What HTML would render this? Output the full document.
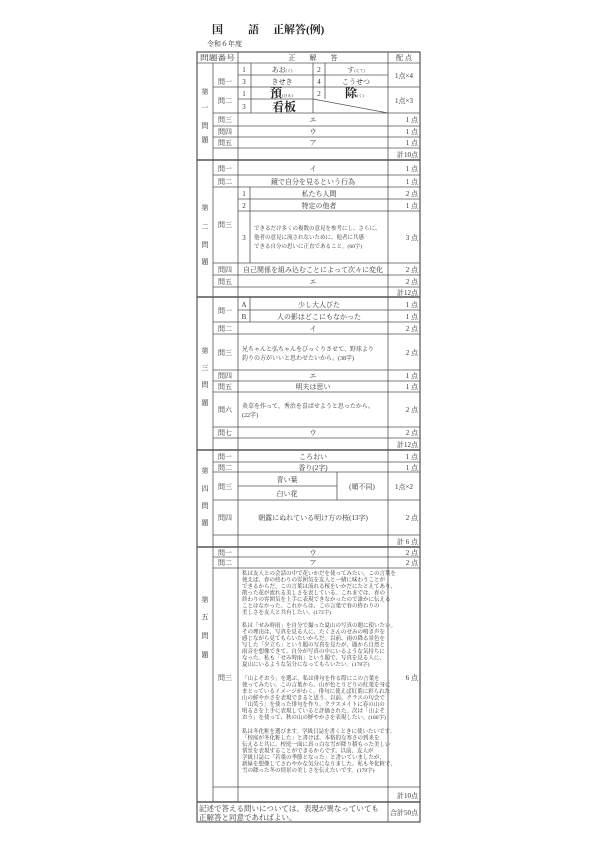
<!DOCTYPE html>
<html><head><meta charset="utf-8"><style>
html,body{margin:0;padding:0;background:#fff;}
svg{display:block;}
text{font-family:"Liberation Serif","Noto Serif CJK SC","Noto Serif CJK SC",serif;fill:#333;}
.s{font-size:7px;}
.t{font-size:5.5px;}
.b{font-size:12px;font-weight:bold;fill:#222;}
.r{text-anchor:end;}
.m{text-anchor:middle;}
</style></head><body>
<svg width="600" height="848" viewBox="0 0 600 848" xmlns="http://www.w3.org/2000/svg">
<g stroke="#555" stroke-width="0.8" fill="none">
<rect x="197" y="52" width="223" height="770" stroke-width="1.2"/>
<line x1="197" y1="63" x2="420" y2="63"/>
<line x1="388" y1="52" x2="388" y2="822"/>
<line x1="238" y1="52" x2="238" y2="802"/>
<line x1="197" y1="160" x2="420" y2="160" stroke-width="1.5"/>
<line x1="197" y1="297" x2="420" y2="297" stroke-width="1.5"/>
<line x1="197" y1="450" x2="420" y2="450" stroke-width="1.5"/>
<line x1="197" y1="547" x2="420" y2="547" stroke-width="1.5"/>
<line x1="197" y1="802" x2="420" y2="802" stroke-width="1.5"/>
<line x1="213" y1="63" x2="213" y2="802"/>
<line x1="238" y1="75" x2="388" y2="75"/>
<line x1="213" y1="87" x2="420" y2="87"/>
<line x1="238" y1="99" x2="313" y2="99"/>
<line x1="213" y1="113" x2="420" y2="113"/>
<line x1="213" y1="126" x2="420" y2="126"/>
<line x1="213" y1="137" x2="420" y2="137"/>
<line x1="213" y1="148" x2="420" y2="148"/>
<line x1="251" y1="63" x2="251" y2="113"/>
<line x1="313" y1="63" x2="313" y2="113"/>
<line x1="325" y1="63" x2="325" y2="99"/>
<line x1="313" y1="99" x2="388" y2="113"/>
<line x1="213" y1="175" x2="420" y2="175"/>
<line x1="213" y1="187" x2="420" y2="187"/>
<line x1="238" y1="199" x2="420" y2="199"/>
<line x1="238" y1="211" x2="420" y2="211"/>
<line x1="213" y1="263" x2="420" y2="263"/>
<line x1="213" y1="275" x2="420" y2="275"/>
<line x1="213" y1="287" x2="420" y2="287"/>
<line x1="250" y1="187" x2="250" y2="263"/>
<line x1="238" y1="310" x2="420" y2="310"/>
<line x1="213" y1="322" x2="420" y2="322"/>
<line x1="213" y1="334" x2="420" y2="334"/>
<line x1="213" y1="370" x2="420" y2="370"/>
<line x1="213" y1="381" x2="420" y2="381"/>
<line x1="213" y1="392" x2="420" y2="392"/>
<line x1="213" y1="427" x2="420" y2="427"/>
<line x1="213" y1="438" x2="420" y2="438"/>
<line x1="250" y1="297" x2="250" y2="322"/>
<line x1="213" y1="462" x2="420" y2="462"/>
<line x1="213" y1="472" x2="420" y2="472"/>
<line x1="238" y1="486" x2="337" y2="486"/>
<line x1="213" y1="500" x2="420" y2="500"/>
<line x1="213" y1="535" x2="420" y2="535"/>
<line x1="337" y1="472" x2="337" y2="500"/>
<line x1="213" y1="557" x2="420" y2="557"/>
<line x1="213" y1="568" x2="420" y2="568"/>
<line x1="213" y1="787" x2="420" y2="787"/>
</g>

<text x="212" y="33" style="font-size:11px;font-weight:bold;fill:#222">国</text>
<text x="248" y="33" style="font-size:11px;font-weight:bold;fill:#222">語</text>
<text x="273" y="33" style="font-size:11px;font-weight:bold;fill:#222">正解答(例)</text>
<text x="207" y="46" class="s">令和６年度</text>

<text x="200" y="60" class="s" textLength="35" lengthAdjust="spacingAndGlyphs">問題番号</text>
<text x="313" y="60" class="s m" xml:space="preserve">正　　解　　答</text>
<text x="404" y="60" class="s m">配 点</text>

<g class="s m">
<text x="205" y="94">第</text><text x="205" y="110">一</text><text x="205" y="128">問</text><text x="205" y="142">題</text>
<text x="205" y="210">第</text><text x="205" y="229">二</text><text x="205" y="247">問</text><text x="205" y="264">題</text>
<text x="205" y="353">第</text><text x="205" y="370">三</text><text x="205" y="387">問</text><text x="205" y="405">題</text>
<text x="205" y="473">第</text><text x="205" y="491">四</text><text x="205" y="508">問</text><text x="205" y="525">題</text>
<text x="205" y="602">第</text><text x="205" y="619">五</text><text x="205" y="638">問</text><text x="205" y="657">題</text>
</g>

<g class="s">
<text x="225" y="84" class="m">問一</text>
<text x="244" y="72" class="m">1</text><text x="244" y="84" class="m">3</text>
<text x="282" y="72" class="m">あお<tspan style="font-size:4px">(ぐ)</tspan></text>
<text x="282" y="84" class="m">きせき</text>
<text x="319" y="72" class="m">2</text><text x="319" y="84" class="m">4</text>
<text x="356" y="72" class="m">す<tspan style="font-size:4px">(えて)</tspan></text>
<text x="356" y="84" class="m">こうせつ</text>
<text x="404" y="78" class="m">1点×4</text>
<text x="225" y="103" class="m">問二</text>
<text x="244" y="96" class="m">1</text><text x="244" y="109" class="m">3</text>
<text x="319" y="96" class="m">2</text>
<text x="404" y="103" class="m">1点×3</text>
<text x="225" y="122" class="m">問三</text><text x="313" y="122" class="m">エ</text><text x="418" y="122" class="r">1 点</text>
<text x="225" y="134" class="m">問四</text><text x="313" y="134" class="m">ウ</text><text x="418" y="134" class="r">1 点</text>
<text x="225" y="145" class="m">問五</text><text x="313" y="145" class="m">ア</text><text x="418" y="145" class="r">1 点</text>
<text x="418" y="157" class="r">計10点</text>
</g>
<text x="270" y="97" class="b">預<tspan style="font-size:4px;font-weight:normal">(ける)</tspan></text>
<text x="345" y="97" class="b">除<tspan style="font-size:4px;font-weight:normal">(く)</tspan></text>
<text x="272" y="111" class="b">看板</text>

<g class="s">
<text x="225" y="171" class="m">問一</text><text x="313" y="171" class="m">イ</text><text x="418" y="171" class="r">1 点</text>
<text x="225" y="184" class="m">問二</text><text x="313" y="184" class="m">鏡で自分を見るという行為</text><text x="418" y="184" class="r">1 点</text>
<text x="225" y="227" class="m">問三</text>
<text x="244" y="196" class="m">1</text><text x="319" y="196" class="m">私たち人間</text><text x="418" y="196" class="r">2 点</text>
<text x="244" y="208" class="m">2</text><text x="319" y="208" class="m">特定の他者</text><text x="418" y="208" class="r">1 点</text>
<text x="244" y="240" class="m">3</text><text x="418" y="240" class="r">3 点</text>
<text x="225" y="272" class="m">問四</text><text x="313" y="272" class="m">自己関係を組み込むことによって次々に変化</text><text x="418" y="272" class="r">2 点</text>
<text x="225" y="284" class="m">問五</text><text x="313" y="284" class="m">エ</text><text x="418" y="284" class="r">2 点</text>
<text x="418" y="295" class="r">計12点</text>
</g>
<g class="t">
<text x="254" y="230">できるだけ多くの複数の意見を参考にし、さらに、</text>
<text x="254" y="239">他者の意見に流されないために、他者に共感</text>
<text x="254" y="248">できる自分の思いに正直であること。(60字)</text>
</g>

<g class="s">
<text x="225" y="313" class="m">問一</text>
<text x="244" y="307" class="m">A</text><text x="319" y="307" class="m">少し大人びた</text><text x="418" y="307" class="r">1 点</text>
<text x="244" y="319" class="m">B</text><text x="319" y="319" class="m">人の影はどこにもなかった</text><text x="418" y="319" class="r">1 点</text>
<text x="225" y="331" class="m">問二</text><text x="313" y="331" class="m">イ</text><text x="418" y="331" class="r">2 点</text>
<text x="225" y="355" class="m">問三</text><text x="418" y="355" class="r">2 点</text>
<text x="225" y="378" class="m">問四</text><text x="313" y="378" class="m">エ</text><text x="418" y="378" class="r">1 点</text>
<text x="225" y="389" class="m">問五</text><text x="313" y="389" class="m">明夫は思い</text><text x="418" y="389" class="r">1 点</text>
<text x="225" y="412" class="m">問六</text><text x="418" y="412" class="r">2 点</text>
<text x="225" y="435" class="m">問七</text><text x="313" y="435" class="m">ウ</text><text x="418" y="435" class="r">2 点</text>
<text x="418" y="447" class="r">計12点</text>
</g>
<g class="t" style="font-size:6px">
<text x="242" y="351">兄ちゃんと弘ちゃんをびっくりさせて、野球より</text>
<text x="242" y="360">釣りの方がいいと思わせたいから。(38字)</text>
<text x="242" y="408">灸草を作って、秀治を喜ばせようと思ったから。</text>
<text x="242" y="417">(22字)</text>
</g>

<g class="s">
<text x="225" y="459" class="m">問一</text><text x="313" y="459" class="m">ころおい</text><text x="418" y="459" class="r">1 点</text>
<text x="225" y="470" class="m">問二</text><text x="313" y="470" class="m">香り(2字)</text><text x="418" y="470" class="r">1 点</text>
<text x="225" y="489" class="m">問三</text>
<text x="287" y="482" class="m">青い葉</text><text x="287" y="496" class="m">白い花</text>
<text x="362" y="489" class="m">(順不同)</text>
<text x="404" y="489" class="m">1点×2</text>
<text x="225" y="520" class="m">問四</text><text x="313" y="520" class="m">朝露にぬれている明け方の桜(13字)</text><text x="418" y="520" class="r">2 点</text>
<text x="418" y="544" class="r">計 6 点</text>
</g>

<g class="s">
<text x="225" y="555" class="m">問一</text><text x="313" y="555" class="m">ウ</text><text x="418" y="555" class="r">2 点</text>
<text x="225" y="565" class="m">問二</text><text x="313" y="565" class="m">ア</text><text x="418" y="565" class="r">2 点</text>
<text x="225" y="680" class="m">問三</text><text x="418" y="680" class="r">6 点</text>
<text x="418" y="798" class="r">計10点</text>
<text x="418" y="815" class="r">合計50点</text>
</g>
<g class="t">
<text x="242" y="575">私は友人との会話の中で花いかだを使ってみたい。この言葉を</text>
<text x="242" y="581.5">使えば、春の終わりの雰囲気を友人と一緒に味わうことが</text>
<text x="242" y="588">できるからだ。この言葉は流れる桜をいかだにたとえてあり、</text>
<text x="242" y="594.5">散った花が流れる美しさを表している。これまでは、春の</text>
<text x="242" y="601">終わりの雰囲気を上手に表現できなかったので誰かに伝える</text>
<text x="242" y="607.5">ことはなかった。これからは、この言葉で春の終わりの</text>
<text x="242" y="614">美しさを友人と共有したい。(173字)</text>

<text x="242" y="627">私は「せみ時雨」を自分で撮った夏山の写真の題に使いたい。</text>
<text x="242" y="633.5">その理由は、写真を見る人に、たくさんのせみの鳴き声を</text>
<text x="242" y="640">感じながら見てもらいたいからだ。以前、雨の降る景色を</text>
<text x="242" y="646.5">写した「夕立ち」という題の写真を見たが、題から自然と</text>
<text x="242" y="653">雨音を想像できて、自分が写真の中にいるような気持ちに</text>
<text x="242" y="659.5">なった。私も「せみ時雨」という題で、写真を見る人に、</text>
<text x="242" y="666">夏山にいるような気分になってもらいたい。(178字)</text>

<text x="242" y="680">「山よそおう」を選ぶ。私は俳句を作る際にこの言葉を</text>
<text x="242" y="686.5">使ってみたい。この言葉から、山が色とりどりの紅葉を身に</text>
<text x="242" y="693">まとっているイメージがわく。俳句に使えば紅葉に彩られた</text>
<text x="242" y="699.5">山の鮮やかさを表現できると思う。以前、クラスの句会で</text>
<text x="242" y="706">「山笑う」を使った俳句を作り、クラスメイトに春の山の</text>
<text x="242" y="712.5">明るさを上手に表現していると評価された。次は「山よそ</text>
<text x="242" y="719">おう」を使って、秋の山の鮮やかさを表現したい。(180字)</text>

<text x="242" y="733">私は冬化粧を選びます。学級日誌を書くときに使いたいです。</text>
<text x="242" y="739.5">「校庭が冬化粧した」と書けば、本格的な寒さの到来を</text>
<text x="242" y="746">伝えると共に、校庭一面に真っ白な雪が降り積もった美しい</text>
<text x="242" y="752.5">情景を表現することができるからです。以前、友人が</text>
<text x="242" y="759">学級日誌に「若葉の季節となった」と書いていましたが、</text>
<text x="242" y="765.5">新緑を想像してさわやかな気分になりました。私も冬化粧で、</text>
<text x="242" y="772">雪の降った冬の情景の美しさを伝えたいです。(179字)</text>
</g>

<g style="font-size:7.5px">
<text x="199" y="811">記述で答える問いについては、表現が異なっていても</text>
<text x="199" y="820">正解答と同意であればよい。</text>
</g>
</svg>
</body></html>
